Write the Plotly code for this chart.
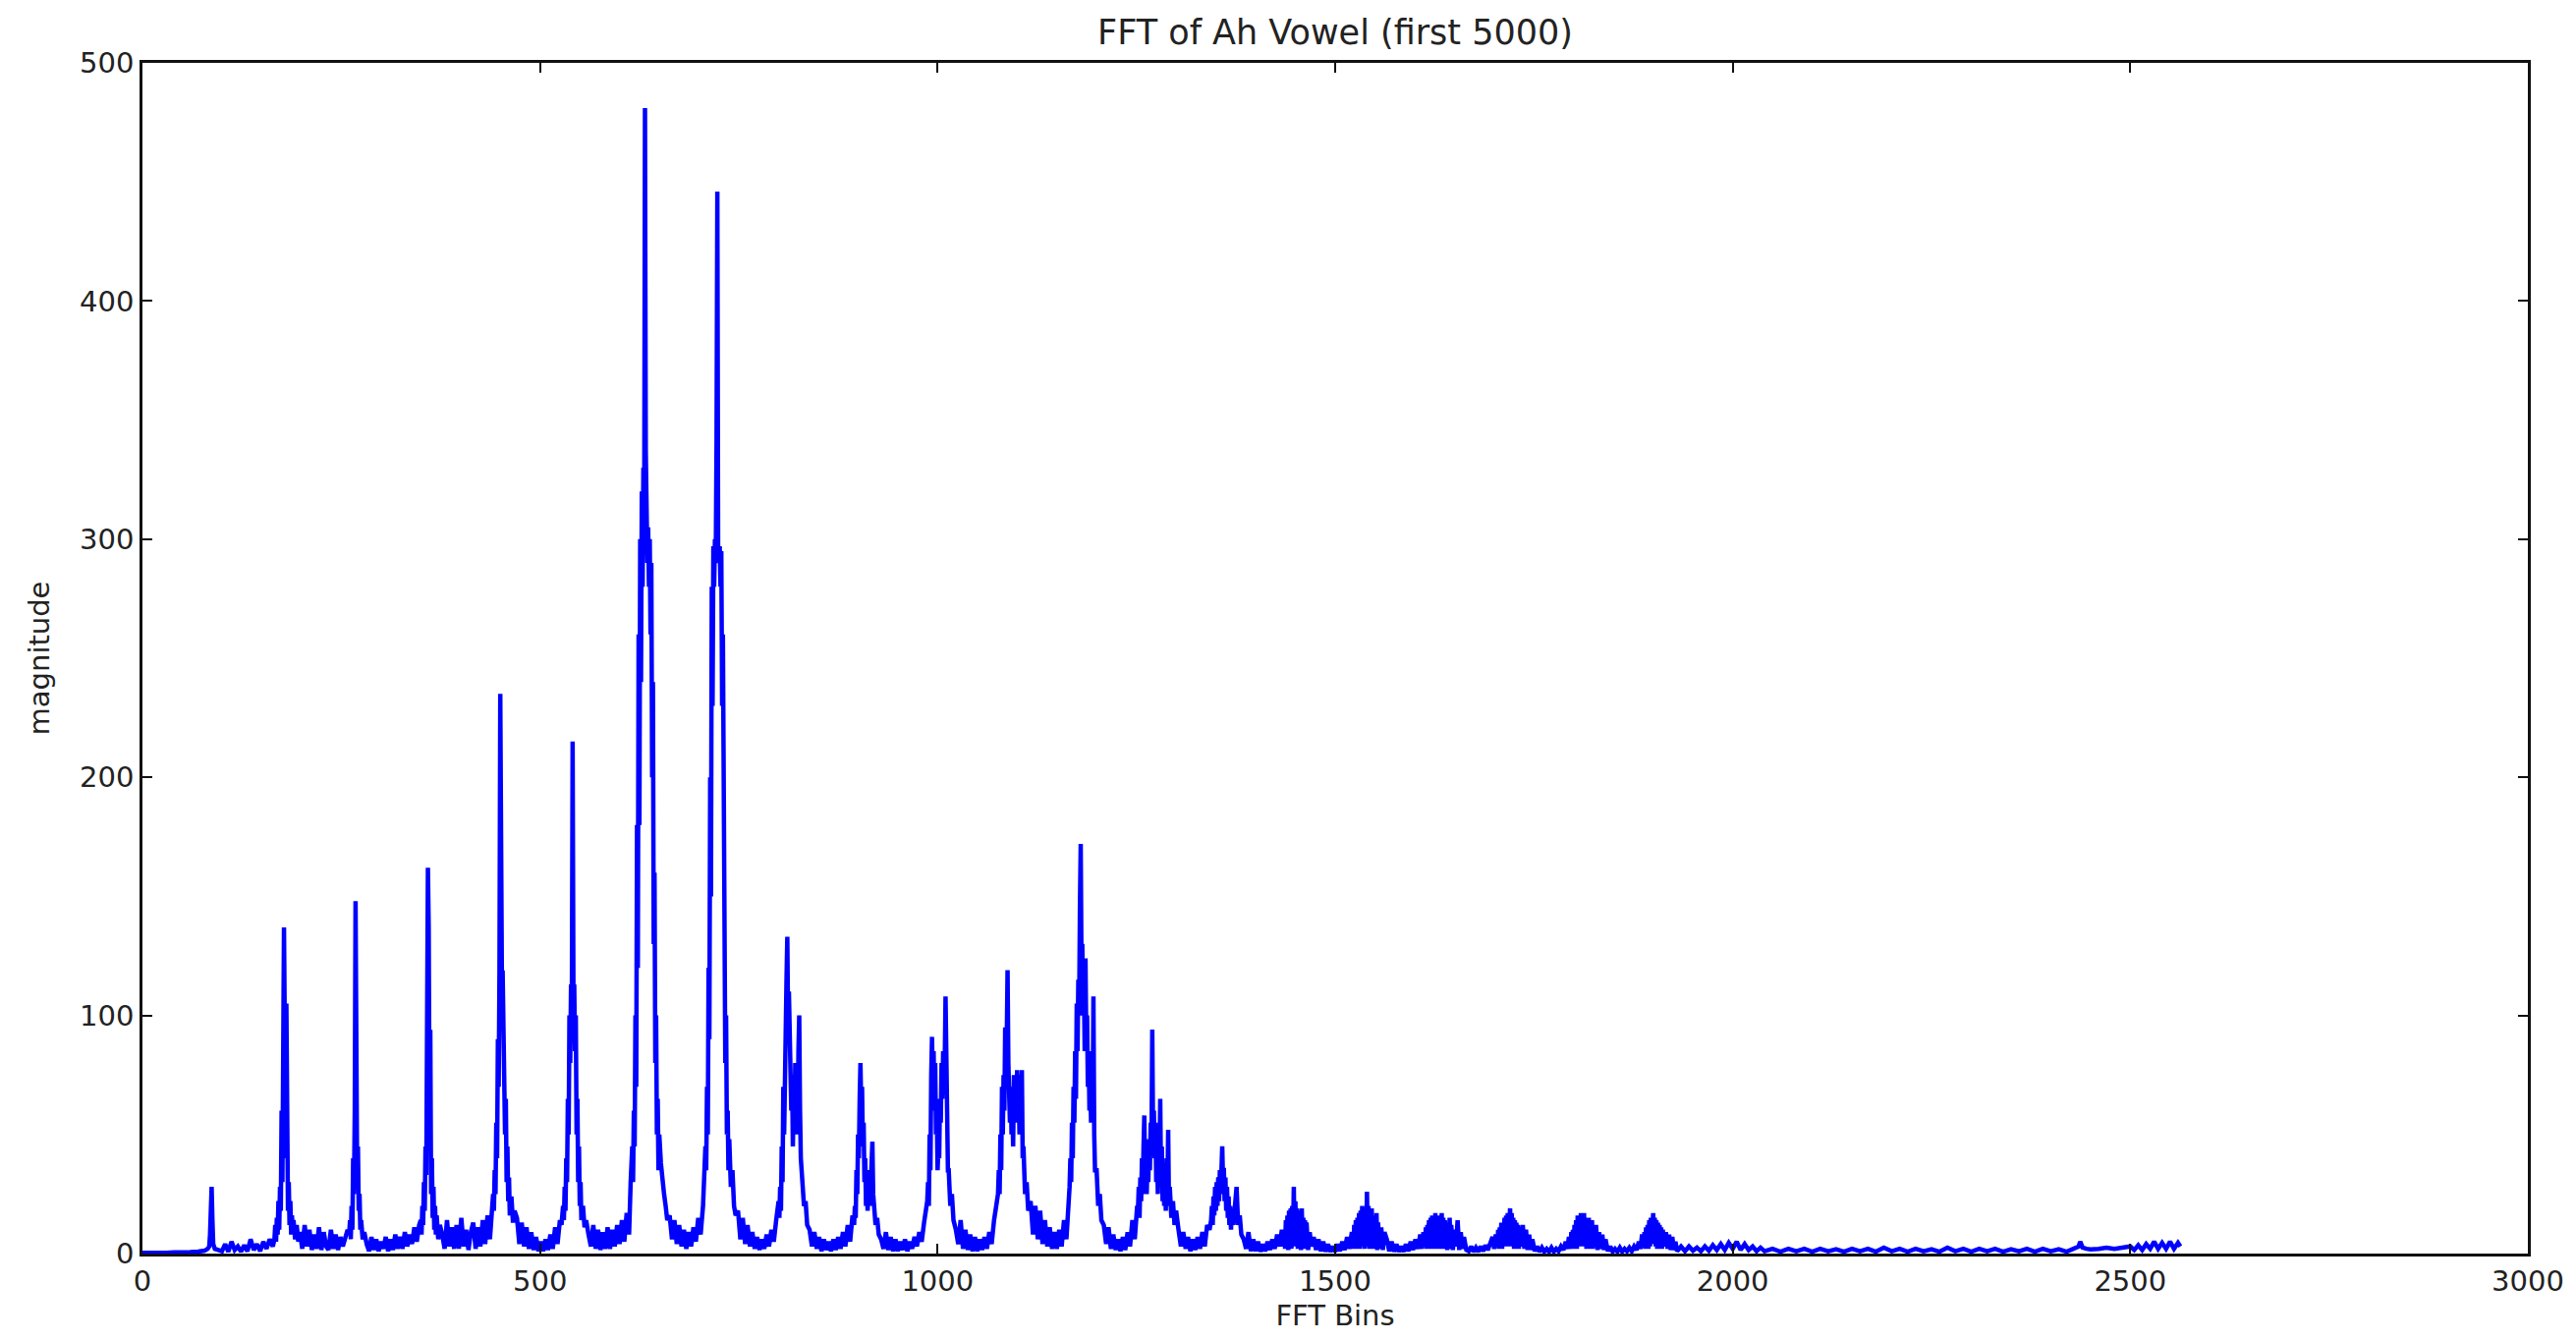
import plotly.graph_objects as go

# ---- data (FFT bin, magnitude) ----
fft_bins = [
    0, 10, 20, 30, 40, 50, 60, 70, 78, 82,
    84, 85, 86, 87, 88, 89, 91, 95,
    100, 104, 108, 112, 116, 120, 124, 128, 132, 136, 140, 144, 148, 152, 156, 160, 164,
    166, 167, 168, 169, 170, 171, 172, 173, 174, 175, 176, 177, 178, 179, 180, 181, 182, 183, 184, 185, 186, 187, 188, 189, 190, 192, 194, 196,
    198, 201, 204, 207, 210, 213, 216, 219, 222, 225, 228, 231, 234, 237, 240, 243, 246, 249, 252, 255, 258,
    260, 261, 262, 263, 264, 265, 266, 267, 268, 269, 270, 271, 272, 273, 274, 275, 277, 279,
    282, 285, 288, 291, 294, 297, 300, 303, 306, 309, 312, 315, 318, 321, 324, 327, 330, 333, 336, 339, 342, 345, 348,
    350, 351, 352, 353, 354, 355, 356, 357, 358, 359, 360, 361, 362, 363, 364, 365, 366, 367, 368, 369, 370, 372, 374,
    377, 380, 383, 386, 389, 392, 395, 398, 401, 404, 407, 410, 413, 416, 419, 422, 425, 428, 431, 434, 437, 440,
    441, 442, 443, 444, 445, 446, 447, 448, 449, 450, 451, 452, 453, 454, 455, 456, 457, 458, 459, 460, 461, 462, 464, 466, 468,
    471, 474, 477, 480, 483, 486, 489, 492, 495, 498, 501, 504, 507, 510, 513, 516, 519, 522, 525,
    527, 529, 530, 531, 532, 533, 534, 535, 536, 537, 538, 539, 540, 541, 542, 543, 544, 545, 546, 547, 548, 549, 550, 551, 552, 554, 556, 558,
    561, 564, 567, 570, 573, 576, 579, 582, 585, 588, 591, 594, 597, 600, 603, 606, 609, 612,
    614, 616, 617, 618, 619, 620, 621, 622, 623, 624, 625, 626, 627, 628, 629, 630, 631, 632, 633, 634, 635, 636, 637, 638, 639, 640, 641, 642, 643, 644, 645, 646, 647, 648, 649, 650, 652, 654, 656, 658, 660,
    663, 666, 669, 672, 675, 678, 681, 684, 687, 690, 693, 696, 699, 702, 705,
    706, 708, 709, 710, 711, 712, 713, 714, 715, 716, 717, 718, 719, 720, 721, 722, 723, 724, 725, 726, 727, 728, 729, 730, 731, 732, 733, 734, 735, 736, 737, 738, 740, 742, 744, 746,
    749, 752, 755, 758, 761, 764, 767, 770, 773, 776, 779, 782, 785, 788, 791, 794, 797, 800,
    801, 802, 803, 804, 805, 806, 807, 808, 809, 810, 811, 812, 813, 814, 815, 816, 817, 818, 819, 820, 821, 822, 823, 824, 825, 826, 827, 828, 830, 832, 834, 836,
    839, 842, 845, 848, 851, 854, 857, 860, 863, 866, 869, 872, 875, 878, 881, 884, 887, 890, 893,
    895, 896, 897, 898, 899, 900, 901, 902, 903, 904, 905, 906, 907, 908, 909, 910, 911, 912, 913, 914, 915, 916, 917, 918, 919, 920, 922, 924, 926,
    929, 932, 935, 938, 941, 944, 947, 950, 953, 956, 959, 962, 965, 968, 971, 974, 977, 980, 983, 986,
    987, 988, 989, 990, 991, 992, 993, 994, 995, 996, 997, 998, 999, 1000, 1001, 1002, 1003, 1004, 1005, 1006, 1007, 1008, 1009, 1010, 1011, 1012, 1013, 1014, 1016, 1018, 1020,
    1023, 1026, 1029, 1032, 1035, 1038, 1041, 1044, 1047, 1050, 1053, 1056, 1059, 1062, 1065, 1068, 1071, 1074,
    1076, 1077, 1078, 1079, 1080, 1081, 1082, 1083, 1084, 1085, 1086, 1087, 1088, 1089, 1090, 1091, 1092, 1093, 1094, 1095, 1096, 1097, 1098, 1099, 1100, 1101, 1102, 1103, 1104, 1105, 1106, 1107, 1108, 1110, 1112, 1114,
    1117, 1120, 1123, 1126, 1129, 1132, 1135, 1138, 1141, 1144, 1147, 1150, 1153, 1156, 1159, 1162, 1165,
    1166, 1167, 1168, 1169, 1170, 1171, 1172, 1173, 1174, 1175, 1176, 1177, 1178, 1179, 1180, 1181, 1182, 1183, 1184, 1185, 1186, 1187, 1188, 1189, 1190, 1191, 1192, 1193, 1194, 1195, 1196, 1197, 1198, 1200, 1202, 1204, 1206,
    1209, 1212, 1215, 1218, 1221, 1224, 1227, 1230, 1233, 1236, 1239, 1242, 1245, 1248, 1251,
    1252, 1253, 1254, 1255, 1256, 1257, 1258, 1259, 1260, 1261, 1262, 1263, 1264, 1265, 1266, 1267, 1268, 1269, 1270, 1271, 1272, 1273, 1274, 1275, 1276, 1277, 1278, 1279, 1280, 1281, 1282, 1283, 1284, 1285, 1286, 1287, 1288, 1289, 1290, 1291, 1292, 1294, 1296, 1298, 1300,
    1303, 1306, 1309, 1312, 1315, 1318, 1321, 1324, 1327, 1330, 1333, 1336, 1339, 1342,
    1344, 1345, 1346, 1347, 1348, 1349, 1350, 1351, 1352, 1353, 1354, 1355, 1356, 1357, 1358, 1359, 1360, 1361, 1362, 1363, 1364, 1365, 1366, 1367, 1368, 1369, 1370, 1372, 1374, 1376, 1378, 1380, 1382,
    1385, 1388, 1391, 1394, 1397, 1400, 1403, 1406, 1409, 1412, 1415, 1418, 1421, 1424, 1427, 1430, 1433,
    1435, 1436, 1437, 1438, 1439, 1440, 1441, 1442, 1443, 1444, 1445, 1446, 1447, 1448, 1449, 1450, 1451, 1452, 1453, 1454, 1455, 1456, 1457, 1458, 1459, 1460, 1461, 1462, 1463, 1464, 1466, 1468, 1470,
    1473, 1476, 1479, 1482, 1485, 1488, 1491, 1494, 1497, 1500, 1503, 1506, 1509, 1512, 1515, 1518, 1521,
    1523, 1524, 1525, 1526, 1527, 1528, 1529, 1530, 1531, 1532, 1533, 1534, 1535, 1536, 1537, 1538, 1539, 1540, 1541, 1542, 1543, 1544, 1545, 1546, 1547, 1548, 1549, 1550, 1551, 1552, 1553, 1554, 1556, 1558, 1560, 1562,
    1565, 1568, 1571, 1574, 1577, 1580, 1583, 1586, 1589, 1592, 1595, 1598, 1601, 1604, 1607,
    1609, 1611, 1613, 1614, 1615, 1616, 1617, 1618, 1619, 1620, 1621, 1622, 1623, 1624, 1625, 1626, 1627, 1628, 1629, 1630, 1631, 1632, 1633, 1634, 1635, 1636, 1637, 1638, 1639, 1640, 1641, 1642, 1643, 1644, 1645, 1646, 1648, 1650, 1652, 1654, 1656, 1658, 1660, 1662, 1665,
    1668, 1671, 1674, 1677, 1680, 1683, 1686, 1689, 1692, 1695, 1698,
    1700, 1702, 1704, 1705, 1706, 1707, 1708, 1709, 1710, 1711, 1712, 1713, 1714, 1715, 1716, 1717, 1718, 1719, 1720, 1721, 1722, 1723, 1724, 1725, 1726, 1727, 1728, 1729, 1730, 1731, 1732, 1734, 1736, 1738, 1740, 1742, 1744, 1746, 1748,
    1751, 1754, 1757, 1760, 1763, 1766, 1769, 1772, 1775, 1778, 1781, 1784, 1787, 1790,
    1792, 1794, 1796, 1797, 1798, 1799, 1800, 1801, 1802, 1803, 1804, 1805, 1806, 1807, 1808, 1809, 1810, 1811, 1812, 1813, 1814, 1815, 1816, 1817, 1818, 1819, 1820, 1821, 1822, 1823, 1824, 1825, 1826, 1828, 1830, 1832, 1834, 1836, 1838, 1840,
    1843, 1846, 1849, 1852, 1855, 1858, 1861, 1864, 1867, 1870, 1873, 1876, 1879, 1882,
    1884, 1886, 1888, 1889, 1890, 1891, 1892, 1893, 1894, 1895, 1896, 1897, 1898, 1899, 1900, 1901, 1902, 1903, 1904, 1905, 1906, 1907, 1908, 1909, 1910, 1911, 1912, 1914, 1916, 1918, 1920, 1922, 1924, 1926, 1928, 1930,
    1935, 1940, 1945, 1950, 1955, 1960, 1965, 1970, 1975, 1980, 1985, 1990, 1995, 2000, 2005, 2010, 2015, 2020, 2025, 2030, 2035, 2040,
    2050, 2060, 2070, 2080, 2090, 2100, 2110, 2120, 2130, 2140, 2150, 2160, 2170, 2180, 2190, 2200, 2210, 2220, 2230, 2240,
    2250, 2260, 2270, 2280, 2290, 2300, 2310, 2320, 2330, 2340, 2350, 2360, 2370, 2380, 2390, 2400, 2410, 2420, 2430,
    2435, 2437, 2440, 2445, 2450, 2460, 2470, 2480, 2490, 2500,
    2505, 2510, 2515, 2520, 2525, 2530, 2535, 2540, 2545, 2550, 2555, 2560, 2563,
]

fft_magnitude = [
    0.3, 0.2, 0.4, 0.3, 0.5, 0.4, 0.6, 0.8, 1.2, 2,
    3, 8, 20, 28, 14, 4, 2, 1.5,
    1, 4, 0.8, 5, 1.5, 3, 0.8, 3.5, 1, 6, 1.5, 4, 1, 5, 2, 6, 3,
    6, 12, 5, 15, 8, 22, 10, 28, 18, 60, 30, 110, 137, 95, 40, 105, 25, 18, 30, 12, 22, 8, 16, 10, 14, 6, 12, 5,
    9, 2, 12, 3, 10, 1.5, 8, 2, 11, 1.5, 9, 3, 1.5, 10, 2, 8, 1.5, 7, 3, 6, 10,
    8, 14, 6, 20, 10, 40, 25, 60, 148, 55, 30, 45, 18, 25, 10, 14, 6, 9,
    4, 1, 7, 1.5, 6, 1, 5, 2, 7, 1, 6, 1.5, 8, 2, 7, 2, 9, 3, 8, 4, 11, 5, 12,
    14, 8, 20, 12, 30, 18, 45, 33, 94, 162, 137, 60, 94, 25, 40, 15, 28, 10, 20, 8, 16, 6, 12,
    8, 2, 14, 3, 11, 2, 12, 2, 15, 3, 10, 1.5, 9, 13, 2, 11, 3, 14, 4, 16, 6, 18,
    25, 18, 35, 25, 55, 40, 90, 70, 118, 235, 150, 118, 118, 90, 100, 50, 65, 30, 45, 22, 32, 16, 24, 13, 18,
    15, 4, 13, 3, 11, 2, 9, 1.5, 7, 1, 5, 1, 6, 1.5, 8, 2, 11, 4, 14,
    12, 20, 14, 28, 18, 40, 30, 65, 50, 100, 80, 113, 100, 215, 110, 113, 85, 100, 50, 65, 30, 45, 20, 30, 14, 20, 11, 14,
    8, 3, 12, 2, 10, 1.5, 9, 2, 11, 2, 10, 3, 12, 4, 14, 5, 17, 8,
    30, 45, 30, 60, 45, 100, 70, 180, 120, 260, 180, 300, 240, 320, 280, 330, 300, 481, 337, 310, 290, 305, 280, 300, 260, 290, 200, 240, 130, 160, 80, 100, 50, 65, 35, 50, 38, 30, 25, 20, 14,
    16, 6, 14, 4, 12, 3, 10, 2, 9, 3, 11, 5, 15, 8, 20,
    30, 45, 35, 70, 50, 120, 90, 200, 150, 280, 230, 297, 280, 300, 290, 341, 446, 297, 290, 297, 280, 295, 230, 260, 150, 180, 80, 100, 50, 60, 35, 48, 28, 35, 20, 16,
    18, 6, 15, 4, 12, 3, 9, 2, 7, 1.5, 6, 2, 8, 3, 10, 5, 14, 22,
    15, 28, 18, 45, 30, 70, 50, 90, 83, 115, 133, 95, 110, 80, 90, 60, 75, 45, 65, 50, 80, 55, 75, 50, 85, 100, 60, 40, 30, 20, 22, 12,
    10, 3, 9, 2, 7, 1, 6, 1.5, 5, 1, 6, 1.5, 7, 2, 9, 3, 12, 5, 16,
    12, 20, 15, 35, 25, 50, 40, 65, 80, 60, 70, 45, 55, 30, 40, 20, 30, 18, 28, 35, 20, 30, 40, 47, 25, 20, 12, 15, 8,
    6, 2, 9, 1.5, 7, 1, 6, 1, 5, 1.5, 6, 1, 5, 2, 7, 3, 9, 5, 13, 18,
    22, 30, 20, 50, 35, 75, 91, 70, 85, 60, 80, 50, 60, 35, 45, 40, 65, 55, 80, 65, 85, 70, 80, 108, 70, 50, 35, 35, 20, 25, 14,
    10, 4, 14, 2, 10, 1.5, 8, 1, 7, 1, 6, 1.5, 7, 2, 9, 4, 14, 20,
    25, 35, 25, 50, 35, 70, 50, 75, 60, 95, 70, 90, 119, 80, 70, 55, 70, 50, 65, 45, 75, 60, 70, 55, 77, 60, 70, 50, 75, 55, 77, 40, 45, 25, 30, 18,
    22, 8, 20, 6, 18, 4, 14, 3, 11, 2, 9, 2, 10, 3, 14, 6, 20,
    28, 40, 30, 55, 40, 70, 55, 85, 65, 105, 85, 115, 100, 145, 172, 120, 130, 100, 115, 85, 124, 90, 100, 70, 85, 60, 75, 55, 65, 60, 108, 50, 35, 35, 20, 25, 14,
    12, 4, 11, 2, 8, 1.5, 6, 1, 7, 1.5, 9, 3, 14, 6, 20,
    18, 28, 15, 32, 22, 40, 25, 45, 58, 30, 42, 25, 40, 30, 48, 35, 55, 45, 94, 50, 60, 40, 55, 30, 45, 25, 50, 35, 65, 30, 45, 22, 38, 20, 35, 18, 40, 25, 52, 20, 28, 15, 22, 12, 18,
    10, 3, 9, 2, 7, 1, 6, 1.5, 7, 2, 9, 3, 12, 10,
    14, 20, 12, 24, 16, 28, 18, 30, 20, 32, 22, 35, 25, 38, 45, 30, 36, 22, 32, 18, 28, 15, 24, 12, 20, 10, 18, 12, 20, 28, 12, 16, 8,
    6, 2, 9, 1, 6, 1, 5, 0.8, 4, 1, 5, 1.5, 6, 2, 8, 3, 10,
    3, 10, 2, 14, 5, 16, 1.5, 18, 5, 19, 2, 20, 6, 28, 3, 22, 5, 19, 2, 18, 4, 16, 1.5, 19, 5, 15, 2, 14, 3, 13, 1.5, 9, 3,
    7, 1.5, 6, 1, 5, 0.8, 4, 0.8, 3, 0.8, 4, 1, 5, 1.5, 7, 2, 9,
    2, 12, 3, 14, 2, 15, 4, 17, 2, 18, 5, 20, 3, 16, 2, 18, 5, 26, 3, 20, 2, 17, 4, 19, 2, 16, 3, 15, 2, 17, 1.5, 13, 2, 11, 1.5, 9,
    6, 1, 5, 0.8, 4, 0.8, 3, 0.8, 4, 1, 5, 1.5, 6, 2, 8,
    2, 9, 3, 11, 2, 12, 4, 14, 2, 15, 3, 16, 2, 13, 4, 17, 2, 15, 3, 16, 2, 14, 4, 17, 2, 15, 3, 14, 2, 13, 1.5, 12, 3, 15, 2, 12, 1.5, 10, 3, 14, 1.5, 9, 2, 7, 1.5,
    1, 3, 0.8, 2.5, 0.8, 3, 1, 3.5, 1.5, 4, 7,
    2, 8, 3, 10, 2, 11, 4, 13, 2, 12, 5, 15, 3, 16, 4, 17, 3, 18, 19, 4, 17, 3, 15, 2, 14, 3, 13, 2, 12, 2, 11, 3, 12, 2, 10, 1.5, 8, 1.5, 6,
    1, 3, 0.8, 2.5, 0.8, 2, 0.8, 2.5, 0.8, 2, 1, 3, 1.5, 5,
    2, 7, 2, 9, 3, 10, 2, 12, 4, 14, 2, 16, 3, 15, 4, 17, 3, 16, 5, 17, 3, 15, 2, 14, 4, 15, 2, 13, 3, 14, 2, 11, 3, 12, 1.5, 9, 2, 8, 1.5, 6,
    1, 3, 0.8, 2, 0.8, 2.5, 0.8, 2, 1, 2.5, 1, 3, 1.5, 5,
    2, 8, 3, 9, 2, 11, 4, 12, 2, 14, 3, 15, 5, 16, 17, 4, 15, 3, 14, 2, 13, 3, 12, 2, 11, 2, 10, 3, 9, 2, 8, 1.5, 7, 1.5, 5, 1,
    3, 1, 3, 1.2, 2.5, 1, 3, 1.2, 3.5, 1.5, 4, 1.5, 4.5, 2, 5, 1.5, 4, 1.5, 3, 1, 2.5, 1,
    2, 0.8, 2, 1, 2, 0.8, 2, 1, 1.8, 0.8, 2, 1, 2, 0.8, 2.5, 1, 2, 0.8, 2, 1,
    1.8, 0.8, 2.5, 1, 2, 0.8, 2, 1, 2, 0.8, 1.8, 1, 2, 0.8, 2, 1, 1.8, 0.8, 2,
    3, 5, 2.5, 2, 1.8, 2, 2.5, 2, 2.5, 3,
    1.5, 3.5, 1.5, 4, 2, 5, 2, 4.5, 2, 5, 2, 4.5, 3,
]

x_ticks = [0, 500, 1000, 1500, 2000, 2500, 3000]
y_ticks = [0, 100, 200, 300, 400, 500]

assert len(fft_bins) == len(fft_magnitude), (len(fft_bins), len(fft_magnitude))

fig = go.Figure()
fig.add_trace(go.Scatter(
    x=fft_bins, y=fft_magnitude, mode="lines",
    line=dict(color="#0000ff", width=4.5),
    showlegend=False, hoverinfo="skip",
))

axis_common = dict(
    showline=True, linecolor="#111111", linewidth=2.5, mirror="allticks",
    ticks="inside", ticklen=10, tickwidth=2, tickcolor="#111111",
    showgrid=False, zeroline=False,
    tickfont=dict(family="DejaVu Sans", size=29, color="#222222"),
)

fig.update_layout(
    width=2622, height=1365,
    margin=dict(l=145, r=49, t=64, b=89),
    paper_bgcolor="white", plot_bgcolor="white",
    font=dict(family="DejaVu Sans", size=29, color="#222222"),
    title=dict(
        text="FFT of Ah Vowel (first 5000)",
        x=0.5, xref="paper", xanchor="center",
        y=1 - 33 / 1365, yref="container", yanchor="middle",
        font=dict(family="DejaVu Sans", size=35, color="#222222"),
    ),
    xaxis=dict(
        range=[0, 3000], tickvals=x_ticks, ticktext=[str(v) for v in x_ticks],
        title=dict(text="FFT Bins", standoff=10,
                   font=dict(family="DejaVu Sans", size=29, color="#222222")),
        **axis_common,
    ),
    yaxis=dict(
        range=[0, 500], tickvals=y_ticks, ticktext=[str(v) for v in y_ticks],
        title=dict(text="magnitude", standoff=22,
                   font=dict(family="DejaVu Sans", size=29, color="#222222")),
        **axis_common,
    ),
)

fig.write_html("out.html")
